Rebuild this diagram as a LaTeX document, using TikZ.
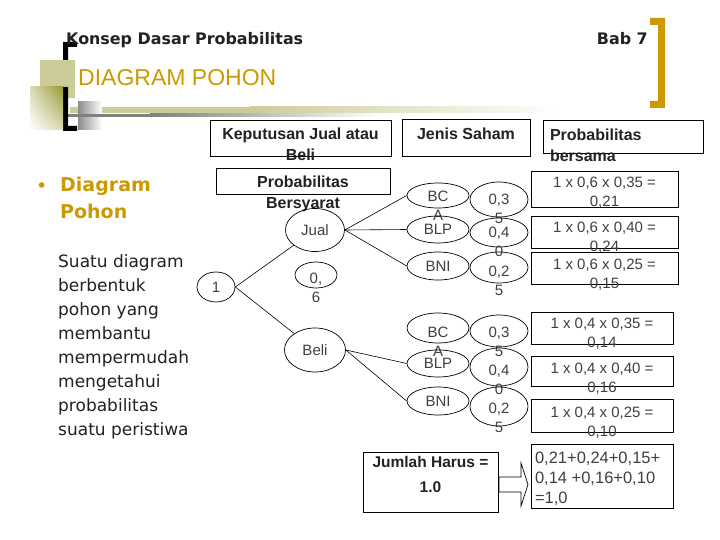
\documentclass[tikz,border=0pt]{standalone}
\usepackage{fontspec}
\setmainfont{Liberation Sans}
\newfontfamily\tahoma{DejaVu Sans}
\usetikzlibrary{shapes.geometric,shadings}
\definecolor{gold}{RGB}{204,153,0}
\definecolor{olivelt}{RGB}{204,204,153}
\definecolor{olivedk}{RGB}{153,153,51}
\definecolor{ink}{RGB}{34,34,34}
% text block whose first baseline sits #2pt below the node centre
\newcommand{\stk}[3][c]{\smash{\raisebox{-#2pt}{\begin{tabular}[t]{@{}#1@{}}#3\end{tabular}}}}

\begin{document}
\begin{tikzpicture}[x=1pt,y=-1pt,
    ell/.style={ellipse,draw,line width=0.7pt,inner sep=0pt,text=black!75,font=\fontsize{15}{19}\selectfont},
    cell/.style={draw,line width=0.7pt,inner sep=0pt,text=black!75,font=\fontsize{15}{19}\selectfont},
    head/.style={draw,line width=0.8pt,inner sep=0pt,text=ink,font=\bfseries\fontsize{16}{21}\selectfont},
    sz/.style 2 args={minimum width=#1,minimum height=#2},
    branch/.style={line width=0.6pt}]
  \useasboundingbox[fill=white] (0,0) rectangle (720,540);
  % slide frame
  \fill[olivelt] (70,107) rectangle (250,113);
  \shade[left color=olivelt,right color=white] (250,107) rectangle (560,113);
  \shade[left color=black!45,right color=white] (78,102) rectangle (102,130);
  \fill[black!50] (42,114) rectangle (150,117);
  \shade[left color=black!50,right color=white] (150,114) rectangle (380,117);
  \fill[black] (63,42) rectangle (77,47) (63,42) rectangle (68,60);
  \fill[olivelt] (40,60) rectangle (75,98);
  \fill[black] (63,87) rectangle (68,131) (63,126) rectangle (77,131);
  \shade[upper right=olivedk,upper left=olivelt!70,lower right=olivelt!70,lower left=white] (30,87) rectangle (63,130);
  \fill[gold] (650,18) rectangle (665,25) (658,18) rectangle (665,108) (650,101) rectangle (665,108);

  \node[anchor=base west,inner sep=0pt,text=ink,font=\tahoma\bfseries\fontsize{15.9}{19}\selectfont] (konsep) at (66,45) {Konsep Dasar Probabilitas};
  \node[anchor=base east,inner sep=0pt,text=ink,font=\tahoma\bfseries\fontsize{15.9}{19}\selectfont] (bab) at (648,45) {Bab 7};
  \node[anchor=base west,inner sep=0pt,text=gold,font=\fontsize{23}{27}\selectfont] (judul) at (78,86) {DIAGRAM POHON};

  % left column
  \node[anchor=base,inner sep=0pt,text=gold,font=\tahoma\fontsize{19}{27}\selectfont] (bullet) at (41.7,193) {•};
  \node[anchor=base west,inner sep=0pt,text=gold,font=\tahoma\bfseries\fontsize{19}{27}\selectfont] (subjudul) at (60,192)
    {\begin{tabular}[t]{@{}l@{}}Diagram\\Pohon\end{tabular}};
  \node[anchor=base west,inner sep=0pt,text=ink,font=\tahoma\fontsize{17}{24.1}\selectfont] (uraian) at (58,267)
    {\begin{tabular}[t]{@{}l@{}}Suatu diagram\\berbentuk\\pohon yang\\membantu\\mempermudah\\mengetahui\\probabilitas\\suatu peristiwa\end{tabular}};

  % column headings
  \node[head,sz={181}{36}] (keputusan) at (300.5,138) {\stk{2}{Keputusan Jual atau\\Beli}};
  \node[head,sz={174}{26}] (bersyarat) at (303,181) {\stk{7}{Probabilitas\\Bersyarat}};
  \node[head,sz={128}{37}] (jenis) at (466,137.5) {\stk{2.5}{Jenis Saham}};
  \node[head,sz={160}{33}] (bersama) at (623,136.5) {\stk[p{146pt}]{4.5}{Probabilitas\\bersama}};

  % tree
  \node[ell,sz={38}{30}] (one) at (216,287) {1};
  \node[ell,sz={59}{43}] (jual) at (315,230) {Jual};
  \node[ell,sz={42}{26}] (p06) at (316,275) {\stk{8}{0,\\6}};
  \node[ell,sz={61}{44}] (beli) at (315,350) {Beli};

  \node[ell,sz={62}{25}] (bca1) at (438,195.5) {\stk{6.5}{BC\\A}};
  \node[ell,sz={62}{27}] (blp1) at (438,229.5) {BLP};
  \node[ell,sz={62}{28}] (bni1) at (438,266) {BNI};
  \node[ell,sz={58}{35}] (pa1) at (499,199.5) {\stk{5.5}{0,3\\5}};
  \node[ell,sz={58}{29}] (pb1) at (499,232.5) {\stk{5.5}{0,4\\0}};
  \node[ell,sz={58}{31}] (pc1) at (499,267.5) {\stk{8.5}{0,2\\5}};

  \node[ell,sz={62}{30}] (bca2) at (438,328) {\stk{9}{BC\\A}};
  \node[ell,sz={62}{27}] (blp2) at (438,363.5) {BLP};
  \node[ell,sz={62}{28}] (bni2) at (438,401) {BNI};
  \node[ell,sz={58}{32}] (pa2) at (499,331) {\stk{6}{0,3\\5}};
  \node[ell,sz={58}{38}] (pb2) at (499,367) {\stk{8}{0,4\\0}};
  \node[ell,sz={58}{39}] (pc2) at (499,406.5) {\stk{6.5}{0,2\\5}};

  \draw[branch] (one.east) -- (jual);
  \draw[branch] (one.east) -- (beli);
  \foreach \s in {bca1,blp1,bni1} \draw[branch] (jual.east) -- (\s.west);
  \foreach \s in {blp2,bni2} \draw[branch] (beli.east) -- (\s.west);

  % joint probabilities
  \node[cell,sz={147}{36}] (r1) at (604.5,189) {\stk{-1}{1 x 0,6 x 0,35 =\\0,21}};
  \node[cell,sz={147}{32}] (r2) at (604.5,232) {\stk{1}{1 x 0,6 x 0,40 =\\0,24}};
  \node[cell,sz={147}{32}] (r3) at (604.5,268) {\stk{1}{1 x 0,6 x 0,25 =\\0,15}};
  \node[cell,sz={142}{32}] (r4) at (602,328) {\stk{0}{1 x 0,4 x 0,35 =\\0,14}};
  \node[cell,sz={142}{30}] (r5) at (602,371) {\stk{2}{1 x 0,4 x 0,40 =\\0,16}};
  \node[cell,sz={142}{33}] (r6) at (602,415.5) {\stk{1.5}{1 x 0,4 x 0,25 =\\0,10}};
  \node[cell,sz={142}{64},font=\fontsize{16.5}{20}\selectfont] (total) at (602,476) {\stk[p{134pt}]{-13}{0,21+0,24+0,15+\\0,14 +0,16+0,10\\=1,0}};
  \node[head,sz={135}{60},font=\bfseries\fontsize{15.5}{25}\selectfont] (jumlah) at (430.5,482) {\stk{-15}{Jumlah Harus =\\1.0}};
  \draw[line width=0.7pt] (499,477) -- (521,477) -- (521,463) -- (528,484.5) -- (521,506) -- (521,492) -- (499,492) -- cycle;
\end{tikzpicture}
\end{document}
